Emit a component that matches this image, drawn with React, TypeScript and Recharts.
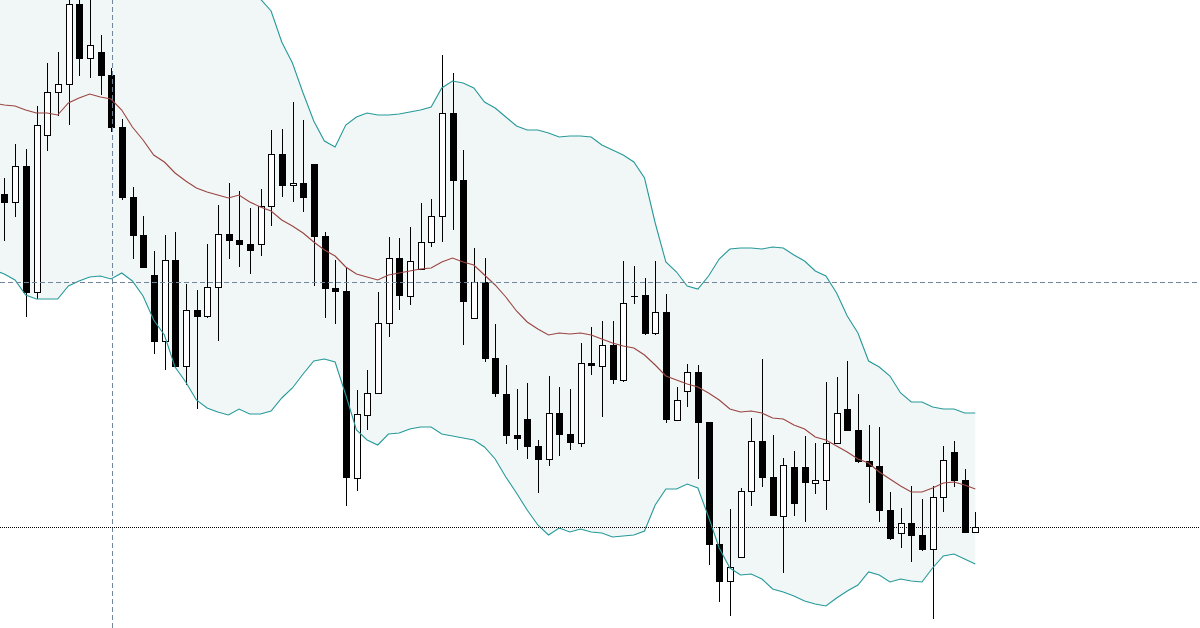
import React from "react";
import { Area, Bar, ComposedChart, Line, ReferenceLine, XAxis, YAxis } from "recharts";

// OHLC per bar, oldest first (bar 0 is the first one on screen)
const open = [
    1.0806, 1.0798, 1.0834, 1.0708, 1.0865, 1.0908, 1.0916, 1.0996, 1.0942, 1.0948,
    1.0925, 1.0873, 1.0803, 1.0765, 1.0725, 1.0659, 1.074, 1.0634, 1.069, 1.0684,
    1.0713, 1.0766, 1.076, 1.0756, 1.0756, 1.0794, 1.0846, 1.0815, 1.0817, 1.0836,
    1.0764, 1.0712, 1.0709, 1.0522, 1.0585, 1.0607, 1.0677, 1.0742, 1.0704, 1.0731,
    1.0758, 1.0784, 1.0887, 1.082, 1.0682, 1.0718, 1.0642, 1.0606, 1.0565, 1.0581,
    1.0554, 1.0541, 1.0587, 1.0566, 1.0557, 1.0637, 1.0634, 1.0655, 1.062, 1.0704,
    1.0705, 1.0667, 1.0688, 1.058, 1.0609, 1.0628, 1.0578, 1.0456, 1.0419, 1.0443,
    1.0509, 1.0559, 1.0523, 1.0484, 1.0533, 1.0533, 1.0517, 1.052, 1.0557, 1.0591,
    1.057, 1.0539, 1.0534, 1.049, 1.0467, 1.0477, 1.0465, 1.0451, 1.0503, 1.0548,
    1.052, 1.0468,
];
const high = [
    1.0822, 1.0856, 1.0851, 1.0894, 1.0937, 1.0948, 1.1005, 1.1005, 1.1005, 1.0965,
    1.0932, 1.0881, 1.0813, 1.0784, 1.0749, 1.0765, 1.0768, 1.0716, 1.071, 1.0756,
    1.0795, 1.0817, 1.0809, 1.0792, 1.0811, 1.087, 1.0871, 1.0898, 1.088, 1.0836,
    1.0768, 1.074, 1.0733, 1.061, 1.063, 1.0708, 1.0763, 1.0762, 1.0773, 1.0797,
    1.0801, 1.0945, 1.0927, 1.085, 1.0752, 1.0742, 1.0676, 1.0635, 1.0611, 1.0617,
    1.056, 1.0624, 1.0613, 1.0611, 1.0657, 1.0673, 1.0679, 1.0679, 1.0739, 1.0734,
    1.0722, 1.0739, 1.0706, 1.0613, 1.0636, 1.0635, 1.0578, 1.0473, 1.0491, 1.0512,
    1.0582, 1.0641, 1.0565, 1.0542, 1.0549, 1.0564, 1.0557, 1.0618, 1.0623, 1.0639,
    1.0606, 1.0575, 1.0573, 1.0508, 1.0492, 1.0514, 1.0501, 1.0514, 1.0554, 1.0559,
    1.0531, 1.0488,
];
const low = [
    1.0759, 1.0783, 1.0683, 1.0701, 1.0849, 1.0884, 1.0875, 1.0924, 1.0922, 1.0905,
    1.0868, 1.08, 1.0741, 1.0732, 1.0646, 1.063, 1.0633, 1.0615, 1.0591, 1.0682,
    1.0659, 1.0741, 1.0733, 1.0726, 1.0744, 1.0774, 1.0803, 1.0798, 1.0788, 1.0714,
    1.0682, 1.0676, 1.0494, 1.0509, 1.057, 1.0607, 1.0663, 1.069, 1.0695, 1.0731,
    1.0753, 1.0758, 1.077, 1.0655, 1.0682, 1.0638, 1.0603, 1.0556, 1.055, 1.0541,
    1.0507, 1.0534, 1.0544, 1.055, 1.0553, 1.0625, 1.0583, 1.0616, 1.0618, 1.0696,
    1.0665, 1.0665, 1.0577, 1.058, 1.0593, 1.0521, 1.0435, 1.0398, 1.0384, 1.0443,
    1.0494, 1.0513, 1.0484, 1.0427, 1.0484, 1.0478, 1.0506, 1.049, 1.0557, 1.0569,
    1.0537, 1.0497, 1.0478, 1.046, 1.0452, 1.0438, 1.0449, 1.0381, 1.0488, 1.0513,
    1.0467, 1.0468,
];
const close = [
    1.0797, 1.0834, 1.0707, 1.0875, 1.0908, 1.0916, 1.0996, 1.0941, 1.0955, 1.0924,
    1.0872, 1.0802, 1.0764, 1.0732, 1.0658, 1.074, 1.0633, 1.069, 1.0683, 1.0713,
    1.0766, 1.0759, 1.0755, 1.0749, 1.0794, 1.0846, 1.0814, 1.0817, 1.0802, 1.0763,
    1.0711, 1.0708, 1.0522, 1.0586, 1.0607, 1.0677, 1.0742, 1.0704, 1.0739, 1.0758,
    1.0784, 1.0887, 1.0819, 1.0698, 1.0718, 1.0641, 1.0606, 1.0564, 1.0561, 1.0553,
    1.054, 1.0587, 1.0565, 1.0557, 1.0637, 1.0634, 1.0655, 1.062, 1.0697, 1.0703,
    1.0666, 1.0688, 1.058, 1.06, 1.0628, 1.0577, 1.0455, 1.0418, 1.0433, 1.0509,
    1.0559, 1.0522, 1.0484, 1.0535, 1.0496, 1.0517, 1.052, 1.0557, 1.0587, 1.0569,
    1.0538, 1.0533, 1.0489, 1.0461, 1.0477, 1.0464, 1.045, 1.0503, 1.054, 1.0519,
    1.0467, 1.0473,
];

// Bollinger bands (20, 2); first value belongs to the bar just left of the screen
const upper = [
    1.1064,
    1.1067, 1.1069, 1.1075, 1.1073, 1.1073, 1.1069, 1.108, 1.1085, 1.1089, 1.1082,
    1.1081, 1.1053, 1.1027, 1.1016, 1.101, 1.1011, 1.1021, 1.102, 1.1024, 1.1024,
    1.1022, 1.1019, 1.1019, 1.101, 1.1001, 1.0989, 1.0958, 1.0937, 1.0907, 1.0879,
    1.0859, 1.0853, 1.0875, 1.0883, 1.0887, 1.0885, 1.0885, 1.0886, 1.0888, 1.089,
    1.0893, 1.0912, 1.0919, 1.0917, 1.0912, 1.0898, 1.0892, 1.0883, 1.0874, 1.087,
    1.087, 1.0867, 1.0863, 1.0864, 1.0864, 1.0863, 1.0855, 1.085, 1.0845, 1.0838,
    1.0822, 1.0777, 1.0738, 1.0728, 1.0714, 1.0711, 1.0724, 1.0741, 1.0751, 1.0752,
    1.0752, 1.0751, 1.0753, 1.0752, 1.0745, 1.0739, 1.0729, 1.0724, 1.0707, 1.0684,
    1.0667, 1.0639, 1.0633, 1.0624, 1.0607, 1.0598, 1.0598, 1.0593, 1.0591, 1.0591,
    1.0587, 1.0587,
];
const middle = [
    1.0897,
    1.0895, 1.0894, 1.089, 1.0887, 1.0887, 1.0885, 1.0897, 1.0902, 1.0906, 1.0903,
    1.0901, 1.089, 1.0873, 1.086, 1.0845, 1.0838, 1.0827, 1.0819, 1.0812, 1.0808,
    1.0805, 1.0802, 1.0805, 1.0798, 1.0793, 1.0789, 1.078, 1.0774, 1.0767, 1.0758,
    1.075, 1.0744, 1.0733, 1.0726, 1.0723, 1.072, 1.0725, 1.0727, 1.0729, 1.0731,
    1.0732, 1.0738, 1.0742, 1.0738, 1.0735, 1.0725, 1.0715, 1.0703, 1.0689, 1.0678,
    1.0671, 1.0665, 1.0667, 1.0666, 1.0667, 1.0665, 1.0661, 1.0657, 1.0654, 1.0652,
    1.0645, 1.0635, 1.0624, 1.062, 1.0616, 1.0613, 1.0607, 1.06, 1.0591, 1.0588,
    1.0589, 1.0587, 1.0582, 1.0581, 1.0575, 1.0571, 1.0563, 1.056, 1.0554, 1.0548,
    1.0541, 1.0537, 1.0528, 1.0521, 1.0514, 1.0508, 1.0508, 1.0512, 1.0517, 1.0518,
    1.0515, 1.0511,
];
const lower = [
    1.073,
    1.0726, 1.072, 1.0705, 1.0701, 1.0701, 1.0701, 1.0714, 1.0719, 1.0723, 1.0724,
    1.0721, 1.0727, 1.0719, 1.0704, 1.068, 1.0665, 1.0633, 1.0618, 1.06, 1.0592,
    1.0588, 1.0585, 1.0591, 1.0586, 1.0586, 1.0589, 1.0602, 1.0612, 1.0626, 1.0639,
    1.0641, 1.0638, 1.0605, 1.057, 1.056, 1.0555, 1.0566, 1.0567, 1.0571, 1.0573,
    1.0573, 1.0566, 1.0564, 1.0562, 1.056, 1.0553, 1.0541, 1.0523, 1.0507, 1.049,
    1.0475, 1.0465, 1.0472, 1.0468, 1.0471, 1.0468, 1.0467, 1.0463, 1.0464, 1.0465,
    1.0469, 1.0495, 1.0511, 1.0511, 1.0516, 1.0512, 1.0483, 1.0452, 1.0432, 1.0425,
    1.0426, 1.0421, 1.0411, 1.0408, 1.0404, 1.0399, 1.0396, 1.0394, 1.0402, 1.0409,
    1.0415, 1.0428, 1.0425, 1.0418, 1.0421, 1.0419, 1.0418, 1.0432, 1.0444, 1.0446,
    1.0441, 1.0436,
];

const levelLine = 1.07175;
const bidLine = 1.04725;
const crosshairBar = 10.14;

const data = upper.map((u, k) => {
    const i = k - 1;
    return {
        i,
        open: i >= 0 ? open[i] : null,
        high: i >= 0 ? high[i] : null,
        low: i >= 0 ? low[i] : null,
        close: i >= 0 ? close[i] : null,
        upper: u,
        middle: middle[k],
        lower: lower[k],
    };
});

function Candle(props: any) {
    const { x, y, width, height, payload } = props;
    if (!payload || payload.open == null || height == null || isNaN(y)) return null;
    const { open: o, close: c, high: h, low: l } = payload;
    const cx = Math.round(x + width / 2) + 0.5;
    const py = (p: number) => y + ((h - p) / (h - l)) * height;
    const top = py(Math.max(o, c));
    const bottom = py(Math.min(o, c));
    const bull = c > o;
    return (
        <g>
            <line x1={cx} x2={cx} y1={y} y2={y + height} stroke="#000" strokeWidth={1} />
            {bull ? (
                <rect
                    x={cx - 3}
                    y={Math.round(top) + 0.5}
                    width={6}
                    height={Math.max(1, Math.round(bottom - top))}
                    fill="#fff"
                    stroke="#000"
                    strokeWidth={1}
                />
            ) : (
                <rect
                    x={cx - 3.5}
                    y={Math.round(top)}
                    width={7}
                    height={Math.max(1, Math.round(bottom - top))}
                    fill="#000"
                />
            )}
        </g>
    );
}

export default function App() {
    return (
        <div style={{ position: "absolute", left: 0, top: 0, width: 1200, height: 628, background: "#fff" }}>
            <ComposedChart width={1200} height={628} data={data} margin={{ top: 0, right: 0, bottom: 0, left: 0 }}>
                <XAxis dataKey="i" type="number" domain={[-0.406, 112.06]} allowDataOverflow hide />
                <YAxis type="number" domain={[1.0372, 1.1]} allowDataOverflow hide />
                <Area
                    dataKey={(d: any) => [d.lower, d.upper]}
                    type="linear"
                    fill="#f1f7f7"
                    fillOpacity={1}
                    stroke="none"
                    activeDot={false}
                    isAnimationActive={false}
                />
                <Line dataKey="upper" type="linear" stroke="#269999" strokeWidth={1.1} dot={false} activeDot={false} isAnimationActive={false} />
                <Line dataKey="lower" type="linear" stroke="#269999" strokeWidth={1.1} dot={false} activeDot={false} isAnimationActive={false} />
                <Line dataKey="middle" type="linear" stroke="#9a4440" strokeWidth={1.1} dot={false} activeDot={false} isAnimationActive={false} />
                <Bar
                    dataKey={(d: any) => (d.open == null ? null : [d.low, d.high])}
                    barSize={7}
                    shape={<Candle />}
                    activeBar={false}
                    isAnimationActive={false}
                />
                <ReferenceLine y={levelLine} stroke="#71869c" strokeDasharray="5 3" />
                <ReferenceLine x={crosshairBar} stroke="#71869c" strokeDasharray="5 3" />
                <ReferenceLine y={bidLine} stroke="#000" strokeDasharray="1 1" />
            </ComposedChart>
        </div>
    );
}
